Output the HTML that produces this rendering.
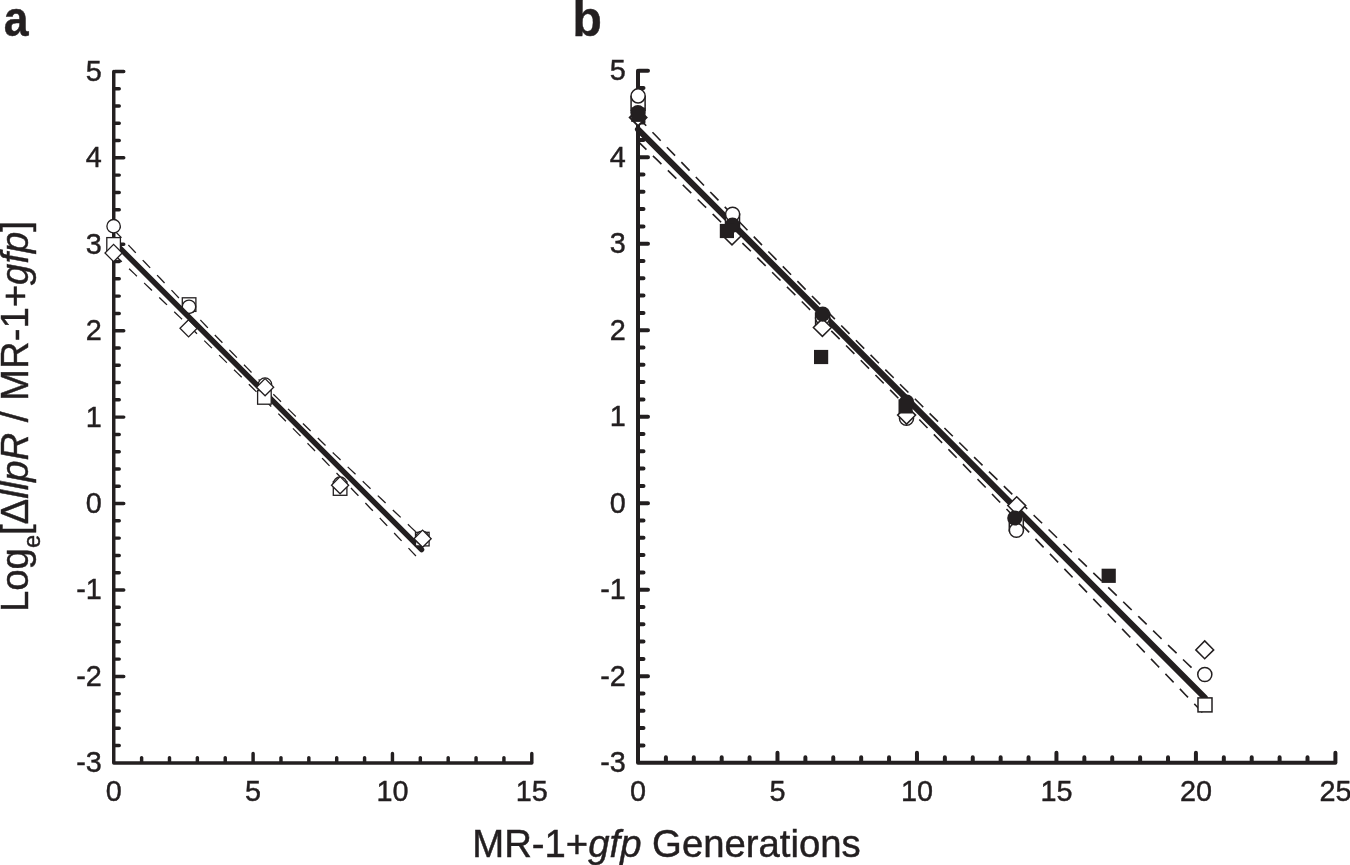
<!DOCTYPE html>
<html><head><meta charset="utf-8"><title>Figure</title>
<style>
html,body{margin:0;padding:0;background:#fff;}
body{width:1350px;height:865px;overflow:hidden;}
svg{display:block;}
text{font-family:"Liberation Sans",sans-serif;fill:#231f20;stroke:#231f20;stroke-width:0.45px;}
.t{font-size:29.7px;}
.at{font-size:38.3px;}
.pl{font-size:49.6px;font-weight:bold;}
</style></head><body>
<svg width="1350" height="865" viewBox="0 0 1350 865">
<rect width="1350" height="865" fill="#fff"/>
<path d="M113.75 71.40V762.90H531.80" fill="none" stroke="#231f20" stroke-width="3.45" stroke-linejoin="round" stroke-linecap="round"/>
<path d="M114.75 71.40h9.0M114.75 88.69h4.5M114.75 105.97h4.5M114.75 123.26h4.5M114.75 140.54h4.5M114.75 157.83h9.0M114.75 175.12h4.5M114.75 192.40h4.5M114.75 209.69h4.5M114.75 226.97h4.5M114.75 244.26h9.0M114.75 261.55h4.5M114.75 278.83h4.5M114.75 296.12h4.5M114.75 313.40h4.5M114.75 330.69h9.0M114.75 347.98h4.5M114.75 365.26h4.5M114.75 382.55h4.5M114.75 399.83h4.5M114.75 417.12h9.0M114.75 434.41h4.5M114.75 451.69h4.5M114.75 468.98h4.5M114.75 486.26h4.5M114.75 503.55h9.0M114.75 520.84h4.5M114.75 538.12h4.5M114.75 555.41h4.5M114.75 572.69h4.5M114.75 589.98h9.0M114.75 607.27h4.5M114.75 624.55h4.5M114.75 641.84h4.5M114.75 659.12h4.5M114.75 676.41h9.0M114.75 693.70h4.5M114.75 710.98h4.5M114.75 728.27h4.5M114.75 745.55h4.5M141.62 761.90v-4.3M169.49 761.90v-4.3M197.36 761.90v-4.3M225.23 761.90v-4.3M253.10 761.90v-8.4M280.97 761.90v-4.3M308.84 761.90v-4.3M336.71 761.90v-4.3M364.58 761.90v-4.3M392.45 761.90v-8.4M420.32 761.90v-4.3M448.19 761.90v-4.3M476.06 761.90v-4.3M503.93 761.90v-4.3M531.80 761.90v-8.4" fill="none" stroke="#231f20" stroke-width="3.45" stroke-linecap="round"/>
<text transform="translate(101.8 80.9) scale(0.97 1.02)" text-anchor="end" class="t">5</text>
<text transform="translate(101.8 167.3) scale(0.97 1.02)" text-anchor="end" class="t">4</text>
<text transform="translate(101.8 253.7) scale(0.97 1.02)" text-anchor="end" class="t">3</text>
<text transform="translate(101.8 340.1) scale(0.97 1.02)" text-anchor="end" class="t">2</text>
<text transform="translate(101.8 426.6) scale(0.97 1.02)" text-anchor="end" class="t">1</text>
<text transform="translate(101.8 513.0) scale(0.97 1.02)" text-anchor="end" class="t">0</text>
<text transform="translate(101.8 599.4) scale(0.97 1.02)" text-anchor="end" class="t">-1</text>
<text transform="translate(101.8 685.9) scale(0.97 1.02)" text-anchor="end" class="t">-2</text>
<text transform="translate(101.8 772.3) scale(0.97 1.02)" text-anchor="end" class="t">-3</text>
<text transform="translate(113.8 801.0) scale(0.97 1.02)" text-anchor="middle" class="t">0</text>
<text transform="translate(253.1 801.0) scale(0.97 1.02)" text-anchor="middle" class="t">5</text>
<text transform="translate(392.4 801.0) scale(0.97 1.02)" text-anchor="middle" class="t">10</text>
<text transform="translate(531.8 801.0) scale(0.97 1.02)" text-anchor="middle" class="t">15</text>
<path d="M114.0 230.0L119.1 235.4L124.3 240.7L129.4 246.1L134.5 251.5L139.6 256.9L144.8 262.3L149.9 267.6L155.0 273.0L160.1 278.3L165.3 283.7L170.4 289.0L175.5 294.4L180.6 299.7L185.8 305.0L190.9 310.3L196.0 315.6L201.2 320.9L206.3 326.2L211.4 331.5L216.5 336.8L221.7 342.0L226.8 347.3L231.9 352.5L237.0 357.7L242.2 362.9L247.3 368.1L252.4 373.3L257.5 378.4L262.7 383.6L267.8 388.7L272.9 393.8L278.1 398.9L283.2 404.0L288.3 409.1L293.4 414.1L298.6 419.1L303.7 424.2L308.8 429.2L313.9 434.2L319.1 439.2L324.2 444.2L329.3 449.1L334.4 454.1L339.6 459.0L344.7 464.0L349.8 468.9L355.0 473.8L360.1 478.7L365.2 483.6L370.3 488.5L375.5 493.4L380.6 498.3L385.7 503.2L390.8 508.1L396.0 513.0L401.1 517.8L406.2 522.7L411.3 527.6L416.5 532.4L421.6 537.3" fill="none" stroke="#231f20" stroke-width="1.3" stroke-dasharray="10.8 10"/>
<path d="M114.0 254.4L119.1 259.3L124.3 264.1L129.4 269.0L134.5 273.9L139.6 278.7L144.8 283.6L149.9 288.5L155.0 293.4L160.1 298.3L165.3 303.2L170.4 308.1L175.5 313.0L180.6 317.9L185.8 322.8L190.9 327.8L196.0 332.7L201.2 337.7L206.3 342.6L211.4 347.6L216.5 352.6L221.7 357.6L226.8 362.6L231.9 367.6L237.0 372.6L242.2 377.7L247.3 382.7L252.4 387.8L257.5 392.9L262.7 398.0L267.8 403.1L272.9 408.2L278.1 413.4L283.2 418.5L288.3 423.7L293.4 428.9L298.6 434.1L303.7 439.3L308.8 444.6L313.9 449.8L319.1 455.1L324.2 460.3L329.3 465.6L334.4 470.9L339.6 476.2L344.7 481.5L349.8 486.8L355.0 492.2L360.1 497.5L365.2 502.8L370.3 508.2L375.5 513.5L380.6 518.9L385.7 524.2L390.8 529.6L396.0 535.0L401.1 540.4L406.2 545.7L411.3 551.1L416.5 556.5L421.6 561.9" fill="none" stroke="#231f20" stroke-width="1.3" stroke-dasharray="10.8 10"/>
<rect x="182.3" y="297.8" width="13.6" height="13.6" fill="#fff" stroke="#231f20" stroke-width="1.3"/>
<circle cx="189.0" cy="306.8" r="6.7" fill="#fff" stroke="#231f20" stroke-width="1.3"/>
<path d="M188.6 319.7L197.2 328.3L188.6 336.9L180.0 328.3Z" fill="#fff" stroke="#231f20" stroke-width="1.3" stroke-linejoin="miter"/>
<path d="M114.0 242.2L421.6 549.6" fill="none" stroke="#231f20" stroke-width="5.4" stroke-linecap="round"/>
<rect x="106.8" y="237.6" width="13.6" height="13.6" fill="#fff" stroke="#231f20" stroke-width="1.3"/>
<circle cx="113.6" cy="226.2" r="6.7" fill="#fff" stroke="#231f20" stroke-width="1.3"/>
<path d="M113.6 244.4L122.2 253.0L113.6 261.6L105.0 253.0Z" fill="#fff" stroke="#231f20" stroke-width="1.3" stroke-linejoin="miter"/>
<rect x="257.6" y="390.6" width="13.6" height="13.6" fill="#fff" stroke="#231f20" stroke-width="1.3"/>
<circle cx="265.0" cy="384.6" r="6.7" fill="#fff" stroke="#231f20" stroke-width="1.3"/>
<path d="M265.1 378.6L273.7 387.2L265.1 395.8L256.5 387.2Z" fill="#fff" stroke="#231f20" stroke-width="1.3" stroke-linejoin="miter"/>
<rect x="333.3" y="481.7" width="13.6" height="13.6" fill="#fff" stroke="#231f20" stroke-width="1.3"/>
<circle cx="340.1" cy="483.7" r="6.7" fill="#fff" stroke="#231f20" stroke-width="1.3"/>
<path d="M340.1 476.6L348.7 485.2L340.1 493.8L331.5 485.2Z" fill="#fff" stroke="#231f20" stroke-width="1.3" stroke-linejoin="miter"/>
<rect x="415.5" y="532.3" width="13.6" height="13.6" fill="#fff" stroke="#231f20" stroke-width="1.3"/>
<circle cx="422.2" cy="537.9" r="6.7" fill="#fff" stroke="#231f20" stroke-width="1.3"/>
<path d="M422.6 530.1L431.2 538.7L422.6 547.3L414.0 538.7Z" fill="#fff" stroke="#231f20" stroke-width="1.3" stroke-linejoin="miter"/>
<path d="M638.00 70.70V762.80H1335.40" fill="none" stroke="#231f20" stroke-width="4.0" stroke-linejoin="round" stroke-linecap="round"/>
<path d="M639.00 70.70h9.0M639.00 88.00h4.5M639.00 105.30h4.5M639.00 122.60h4.5M639.00 139.90h4.5M639.00 157.20h9.0M639.00 174.50h4.5M639.00 191.80h4.5M639.00 209.10h4.5M639.00 226.40h4.5M639.00 243.70h9.0M639.00 261.00h4.5M639.00 278.30h4.5M639.00 295.60h4.5M639.00 312.90h4.5M639.00 330.20h9.0M639.00 347.50h4.5M639.00 364.80h4.5M639.00 382.10h4.5M639.00 399.40h4.5M639.00 416.70h9.0M639.00 434.00h4.5M639.00 451.30h4.5M639.00 468.60h4.5M639.00 485.90h4.5M639.00 503.20h9.0M639.00 520.50h4.5M639.00 537.80h4.5M639.00 555.10h4.5M639.00 572.40h4.5M639.00 589.70h9.0M639.00 607.00h4.5M639.00 624.30h4.5M639.00 641.60h4.5M639.00 658.90h4.5M639.00 676.20h9.0M639.00 693.50h4.5M639.00 710.80h4.5M639.00 728.10h4.5M639.00 745.40h4.5M665.90 761.80v-4.45M693.79 761.80v-4.45M721.69 761.80v-4.45M749.58 761.80v-4.45M777.48 761.80v-9.05M805.38 761.80v-4.45M833.27 761.80v-4.45M861.17 761.80v-4.45M889.06 761.80v-4.45M916.96 761.80v-9.05M944.86 761.80v-4.45M972.75 761.80v-4.45M1000.65 761.80v-4.45M1028.54 761.80v-4.45M1056.44 761.80v-9.05M1084.34 761.80v-4.45M1112.23 761.80v-4.45M1140.13 761.80v-4.45M1168.02 761.80v-4.45M1195.92 761.80v-9.05M1223.82 761.80v-4.45M1251.71 761.80v-4.45M1279.61 761.80v-4.45M1307.50 761.80v-4.45M1335.40 761.80v-9.05" fill="none" stroke="#231f20" stroke-width="4.0" stroke-linecap="round"/>
<text transform="translate(625.8 80.2) scale(0.97 1.02)" text-anchor="end" class="t">5</text>
<text transform="translate(625.8 166.6) scale(0.97 1.02)" text-anchor="end" class="t">4</text>
<text transform="translate(625.8 253.1) scale(0.97 1.02)" text-anchor="end" class="t">3</text>
<text transform="translate(625.8 339.6) scale(0.97 1.02)" text-anchor="end" class="t">2</text>
<text transform="translate(625.8 426.1) scale(0.97 1.02)" text-anchor="end" class="t">1</text>
<text transform="translate(625.8 512.6) scale(0.97 1.02)" text-anchor="end" class="t">0</text>
<text transform="translate(625.8 599.2) scale(0.97 1.02)" text-anchor="end" class="t">-1</text>
<text transform="translate(625.8 685.7) scale(0.97 1.02)" text-anchor="end" class="t">-2</text>
<text transform="translate(625.8 772.2) scale(0.97 1.02)" text-anchor="end" class="t">-3</text>
<text transform="translate(638.0 801.0) scale(0.97 1.02)" text-anchor="middle" class="t">0</text>
<text transform="translate(777.5 801.0) scale(0.97 1.02)" text-anchor="middle" class="t">5</text>
<text transform="translate(917.0 801.0) scale(0.97 1.02)" text-anchor="middle" class="t">10</text>
<text transform="translate(1056.4 801.0) scale(0.97 1.02)" text-anchor="middle" class="t">15</text>
<text transform="translate(1195.9 801.0) scale(0.97 1.02)" text-anchor="middle" class="t">20</text>
<text transform="translate(1335.4 801.0) scale(0.97 1.02)" text-anchor="middle" class="t">25</text>
<path d="M638.0 117.3L647.4 127.0L656.9 136.8L666.3 146.6L675.8 156.4L685.2 166.1L694.7 175.9L704.1 185.6L713.6 195.4L723.0 205.1L732.5 214.8L741.9 224.5L751.4 234.2L760.8 243.9L770.3 253.5L779.7 263.2L789.1 272.8L798.6 282.4L808.0 292.0L817.5 301.6L826.9 311.1L836.4 320.6L845.8 330.1L855.3 339.6L864.7 349.1L874.2 358.5L883.6 367.9L893.1 377.3L902.5 386.7L912.0 396.0L921.4 405.3L930.8 414.6L940.3 423.9L949.7 433.2L959.2 442.5L968.6 451.7L978.1 461.0L987.5 470.2L997.0 479.4L1006.4 488.6L1015.9 497.8L1025.3 507.0L1034.8 516.2L1044.2 525.3L1053.7 534.5L1063.1 543.7L1072.5 552.8L1082.0 561.9L1091.4 571.1L1100.9 580.2L1110.3 589.4L1119.8 598.5L1129.2 607.6L1138.7 616.7L1148.1 625.8L1157.6 635.0L1167.0 644.1L1176.5 653.2L1185.9 662.3L1195.4 671.4L1204.8 680.5" fill="none" stroke="#231f20" stroke-width="1.6" stroke-dasharray="11.8 8.98"/>
<path d="M638.0 141.4L647.4 150.6L656.9 159.7L666.3 168.9L675.8 178.1L685.2 187.3L694.7 196.5L704.1 205.7L713.6 214.9L723.0 224.1L732.5 233.3L741.9 242.6L751.4 251.8L760.8 261.1L770.3 270.4L779.7 279.7L789.1 289.0L798.6 298.3L808.0 307.7L817.5 317.1L826.9 326.5L836.4 335.9L845.8 345.3L855.3 354.8L864.7 364.3L874.2 373.8L883.6 383.3L893.1 392.9L902.5 402.5L912.0 412.1L921.4 421.7L930.8 431.3L940.3 441.0L949.7 450.6L959.2 460.3L968.6 470.0L978.1 479.7L987.5 489.4L997.0 499.2L1006.4 508.9L1015.9 518.7L1025.3 528.4L1034.8 538.2L1044.2 548.0L1053.7 557.7L1063.1 567.5L1072.5 577.3L1082.0 587.1L1091.4 596.9L1100.9 606.7L1110.3 616.5L1119.8 626.4L1129.2 636.2L1138.7 646.0L1148.1 655.8L1157.6 665.7L1167.0 675.5L1176.5 685.3L1185.9 695.2L1195.4 705.0L1204.8 714.9" fill="none" stroke="#231f20" stroke-width="1.6" stroke-dasharray="11.8 9.02"/>
<path d="M638.0 129.3L1204.8 697.7" fill="none" stroke="#231f20" stroke-width="6.1" stroke-linecap="round"/>
<rect x="631.1" y="96.5" width="14.0" height="14.0" fill="#fff" stroke="#231f20" stroke-width="1.5"/>
<rect x="725.5" y="214.0" width="14.0" height="14.0" fill="#fff" stroke="#231f20" stroke-width="1.5"/>
<rect x="815.6" y="313.0" width="14.0" height="14.0" fill="#fff" stroke="#231f20" stroke-width="1.5"/>
<rect x="1009.3" y="516.9" width="14.0" height="14.0" fill="#fff" stroke="#231f20" stroke-width="1.5"/>
<rect x="1198.0" y="697.9" width="14.0" height="14.0" fill="#fff" stroke="#231f20" stroke-width="1.5"/>
<circle cx="638.1" cy="95.9" r="7.05" fill="#fff" stroke="#231f20" stroke-width="1.5"/>
<circle cx="732.6" cy="214.2" r="7.05" fill="#fff" stroke="#231f20" stroke-width="1.5"/>
<circle cx="822.6" cy="318.0" r="7.05" fill="#fff" stroke="#231f20" stroke-width="1.5"/>
<circle cx="906.5" cy="418.2" r="7.05" fill="#fff" stroke="#231f20" stroke-width="1.5"/>
<circle cx="1016.4" cy="530.3" r="7.05" fill="#fff" stroke="#231f20" stroke-width="1.5"/>
<circle cx="1204.8" cy="674.5" r="7.05" fill="#fff" stroke="#231f20" stroke-width="1.5"/>
<path d="M638.1 109.2L646.5 117.6L638.1 125.9L629.8 117.6Z" fill="#fff" stroke="#231f20" stroke-width="2.0" stroke-linejoin="miter"/>
<path d="M732.0 227.1L741.0 236.0L732.0 244.9L723.0 236.0Z" fill="#fff" stroke="#231f20" stroke-width="1.5" stroke-linejoin="miter"/>
<path d="M822.4 318.6L831.4 327.5L822.4 336.4L813.4 327.5Z" fill="#fff" stroke="#231f20" stroke-width="1.5" stroke-linejoin="miter"/>
<path d="M906.6 406.2L915.6 415.1L906.6 424.1L897.6 415.1Z" fill="#fff" stroke="#231f20" stroke-width="1.5" stroke-linejoin="miter"/>
<path d="M1016.7 496.7L1025.7 505.6L1016.7 514.6L1007.8 505.6Z" fill="#fff" stroke="#231f20" stroke-width="1.5" stroke-linejoin="miter"/>
<path d="M1204.7 640.9L1213.7 649.9L1204.7 658.8L1195.8 649.9Z" fill="#fff" stroke="#231f20" stroke-width="1.5" stroke-linejoin="miter"/>
<circle cx="637.9" cy="112.7" r="7.6" fill="#231f20"/>
<circle cx="732.5" cy="225.1" r="7.6" fill="#231f20"/>
<circle cx="822.7" cy="314.2" r="7.6" fill="#231f20"/>
<circle cx="906.6" cy="402.0" r="7.6" fill="#231f20"/>
<circle cx="1014.8" cy="518.0" r="7.6" fill="#231f20"/>
<rect x="631.2" y="107.7" width="14.2" height="14.2" fill="#231f20"/>
<rect x="719.8" y="223.9" width="14.2" height="14.2" fill="#231f20"/>
<rect x="814.0" y="349.9" width="14.2" height="14.2" fill="#231f20"/>
<rect x="898.5" y="399.3" width="14.2" height="14.2" fill="#231f20"/>
<rect x="1101.6" y="568.7" width="14.2" height="14.2" fill="#231f20"/>
<text transform="translate(3.7 35.6) scale(0.9 1)" class="pl">a</text>
<text transform="translate(572.6 35.6) scale(0.97 1)" class="pl">b</text>
<text x="666.5" y="856.9" text-anchor="middle" class="at">MR-1+<tspan font-style="italic">gfp</tspan> Generations</text>
<text transform="translate(27.7 416.5) rotate(-90)" text-anchor="middle" class="at">Log<tspan font-size="23.5" dy="12.3">e</tspan><tspan dy="-12.3">[Δ</tspan><tspan font-style="italic">llpR</tspan> / MR-1+<tspan font-style="italic">gfp</tspan>]</text>
</svg>
</body></html>
